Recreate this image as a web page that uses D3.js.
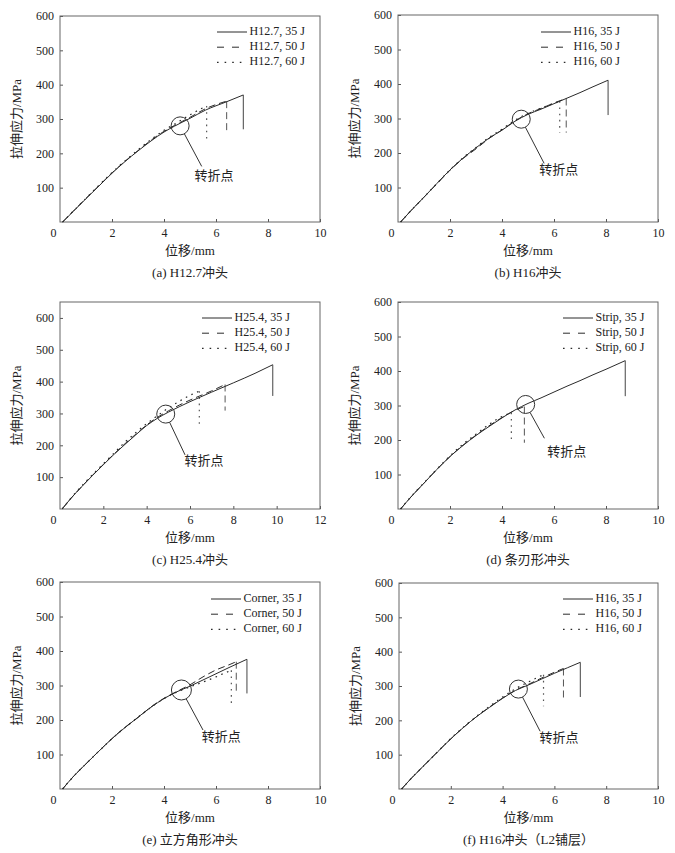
<!DOCTYPE html>
<html><head><meta charset="utf-8">
<script src="https://cdn.jsdelivr.net/npm/d3@7"></script>
<style>
body{margin:0;background:#fff;}
svg text{font-family:"Liberation Serif","Times New Roman","Noto Sans CJK SC",serif;fill:#222;}
</style></head><body>
<svg id="chart" width="675" height="853"></svg>
<script>
// ---------------- data ----------------
const captions = ["(a) H12.7冲头","(b) H16冲头","(c) H25.4冲头","(d) 条刃形冲头","(e) 立方角形冲头","(f) H16冲头（L2铺层）"];
const legendNames = ["H12.7","H16","H25.4","Strip","Corner","H16"];
const energyLabels = ["35 J","50 J","60 J"];
const xMaxes = [10,10,12,10,10,10];
const yMaxes = [600,600,650,600,600,600];
const xTicks10 = [0,2,4,6,8,10];
const xTicks12 = [0,2,4,6,8,10,12];
const yTicks = [100,200,300,400,500,600];
const xTitle = "位移/mm";
const yTitle = "拉伸应力/MPa";
const turnLabel = "转折点";

// (a) H12.7
const a35 = [[0.1,0],[0.5,30],[1,68],[1.5,105],[2,142],[2.5,176],[3,207],[3.5,236],[4,262],[4.4,279],[5,302],[5.6,326],[6.4,350],[7.05,370]];
const a50 = [[0.1,0],[0.5,31],[1,69],[1.5,106],[2,143],[2.5,177],[3,208],[3.5,238],[4,264],[4.4,281],[5,305],[5.6,330],[6.41,352]];
const a60 = [[0.1,0],[0.5,31],[1,69],[1.5,107],[2,144],[2.5,178],[3,210],[3.5,240],[4,267],[4.4,285],[5,312],[5.3,325],[5.64,338]];
const aDrop = [270,260,237];
// (b) H16
const b35 = [[0.1,0],[0.5,33],[1,72],[1.5,112],[2,151],[2.5,185],[3,215],[3.5,243],[4,266],[4.5,292],[5,312],[5.5,327],[6,343],[6.5,359],[7,375],[7.5,392],[8.08,411]];
const b50 = [[0.1,0],[0.5,33],[1,72],[1.5,111],[2,150],[2.5,184],[3,212],[3.5,242],[4,267],[4.5,293],[5,314],[5.5,329],[6,345],[6.47,358]];
const b60 = [[0.1,0],[0.5,33],[1,72],[1.5,112],[2,151],[2.5,186],[3,216],[3.5,245],[4,269],[4.5,295],[5,315],[5.5,330],[6.22,350]];
const bDrop = [310,259,259];
// (c) H25.4
const c35 = [[0.1,0],[0.5,33],[1,70],[1.5,105],[2,139],[2.5,172],[3,203],[3.5,233],[4,262],[4.5,285],[5,304],[5.5,321],[6,337],[7,367],[8,396],[9,426],[9.82,453]];
const c50 = [[0.1,0],[0.5,33],[1,70],[1.5,106],[2,140],[2.5,173],[3,205],[3.5,235],[4,264],[4.5,288],[5,308],[5.5,326],[6,342],[7,371],[7.62,391]];
const c60 = [[0.1,0],[0.5,34],[1,72],[1.5,108],[2,142],[2.5,176],[3,210],[3.5,240],[4,268],[4.5,293],[5,317],[5.5,338],[6,357],[6.43,370]];
const cDrop = [355,309,267];
// (d) Strip
const d35 = [[0.1,0],[0.5,35],[1,75],[1.5,115],[2,152],[2.5,184],[3,213],[3.5,239],[4,264],[4.5,287],[5,306],[5.5,322],[6,339],[6.5,356],[7,372],[7.5,389],[8,405],[8.74,430]];
const d50 = [[0.1,0],[0.5,35],[1,75],[1.5,115],[2,152],[2.5,185],[3,214],[3.5,241],[4,265],[4.5,286],[4.86,297]];
const d60 = [[0.1,0],[0.5,36],[1,76],[1.5,116],[2,154],[2.5,188],[3,217],[3.5,245],[4,268],[4.36,279]];
const dDrop = [327,192,203];
// (e) Corner
const e35 = [[0.1,0],[0.5,35],[1,73],[1.5,110],[2,146],[2.5,178],[3,208],[3.5,237],[4,262],[4.5,282],[5,298],[5.5,316],[6,334],[6.5,352],[7.19,376]];
const e50 = [[0.1,0],[0.5,35],[1,73],[1.5,110],[2,146],[2.5,179],[3,207],[3.5,238],[4,263],[4.5,283],[5,302],[5.5,325],[6,345],[6.5,360],[6.78,369]];
const e60 = [[0.1,0],[0.5,35],[1,73],[1.5,110],[2,146],[2.5,178],[3,208],[3.5,237],[4,262],[4.5,281],[5,296],[5.5,310],[6,325],[6.3,335],[6.59,344]];
const eDrop = [277,275,246];
// (f) H16 (L2)
const f35 = [[0.1,0],[0.5,33],[1,71],[1.5,109],[2,146],[2.5,180],[3,211],[3.5,238],[4,264],[4.5,287],[5,303],[5.5,320],[6,337],[6.5,353],[7,369]];
const f50 = [[0.1,0],[0.5,33],[1,71],[1.5,109],[2,146],[2.5,180],[3,211],[3.5,239],[4,265],[4.5,288],[5,305],[5.5,323],[6,340],[6.35,351]];
const f60 = [[0.1,0],[0.5,33],[1,71],[1.5,109],[2,147],[2.5,181],[3,212],[3.5,241],[4,268],[4.5,292],[5,312],[5.3,323],[5.58,333]];
const fDrop = [268,255,241];

const turnPoints = [[4.62,280],[4.74,298],[4.88,298],[4.91,303],[4.67,287],[4.61,291]];
const leaderEnds = [[5.45,162],[5.62,170],[5.77,170],[5.63,205],[5.5,171],[5.45,168]];
const labelPoints = [[5.92,134],[6.18,149],[6.65,149],[6.49,164],[6.2,149],[6.18,147]];

const seriesByPanel = [[a35,a50,a60],[b35,b50,b60],[c35,c50,c60],[d35,d50,d60],[e35,e50,e60],[f35,f50,f60]];
const dropsByPanel = [aDrop,bDrop,cDrop,dDrop,eDrop,fDrop];

// ---------------- layout ----------------
const boxes = [
  {l:60, r:320, t:16, b:222},
  {l:398,r:658, t:15, b:222},
  {l:60, r:320, t:302,b:509},
  {l:398,r:658, t:302,b:509},
  {l:60, r:320, t:582,b:789},
  {l:399,r:658, t:583,b:789}
];
const legendOffsets = [[157,16],[143,17],[142,16],[165,16],[151,17],[164,16]];
const dashStyles = [null,"7,4","1.6,4.6"];
const lineColor = "#2a2a2a";

const svg = d3.select("#chart");

boxes.forEach((bx,i)=>{
  const g = svg.append("g");
  const x = d3.scaleLinear().domain([0,xMaxes[i]]).range([bx.l,bx.r]);
  const y = d3.scaleLinear().domain([0,yMaxes[i]]).range([bx.b,bx.t]);
  const xt = xMaxes[i]===12 ? xTicks12 : xTicks10;

  // axes (inward ticks)
  const xAxis = d3.axisBottom(x).tickValues(xt).tickSizeInner(-3).tickSizeOuter(0).tickPadding(6).tickFormat(d3.format("d"));
  const gx = g.append("g").attr("transform",`translate(0,${bx.b})`).call(xAxis);
  gx.selectAll("text").attr("font-size",12).attr("dy","0.72em")
    .attr("x",(d)=> d===0 ? -7 : 0);
  const yAxis = d3.axisLeft(y).tickValues(yTicks).tickSizeInner(-3).tickSizeOuter(0).tickPadding(6);
  const gy = g.append("g").attr("transform",`translate(${bx.l},0)`).call(yAxis);
  gy.selectAll("text").attr("font-size",12);
  [gx,gy].forEach(a=>{
    a.select(".domain").remove();
    a.selectAll("line").attr("stroke","#555");
    a.selectAll("text").style("font-family",'"Liberation Serif",serif').attr("fill","#222");
    a.selectAll(".tick").filter(d=>d===0).select("line").remove();
  });
  // frame
  g.append("rect").attr("x",bx.l).attr("y",bx.t).attr("width",bx.r-bx.l).attr("height",bx.b-bx.t)
    .attr("fill","none").attr("stroke","#666").attr("stroke-width",1);

  // curves
  const line = d3.line().x(d=>x(d[0])).y(d=>y(d[1])).curve(d3.curveMonotoneX);
  const ser = seriesByPanel[i];
  const drops = dropsByPanel[i];
  [2,1,0].forEach(k=>{
    const s = ser[k];
    const last = s[s.length-1];
    const p = g.append("path").datum(s).attr("d",line).attr("fill","none")
      .attr("stroke",lineColor).attr("stroke-width",k===2?1.2:1);
    if(dashStyles[k]) p.attr("stroke-dasharray",dashStyles[k]);
    const dl = g.append("line").attr("x1",x(last[0])).attr("x2",x(last[0]))
      .attr("y1",y(last[1])).attr("y2",y(drops[k]))
      .attr("stroke",k===0?"#444":"#555").attr("stroke-width",k===2?1.2:1);
    if(dashStyles[k]) dl.attr("stroke-dasharray",dashStyles[k]);
  });

  // turning point annotation
  const cx = x(turnPoints[i][0]), cy = y(turnPoints[i][1]);
  const r = i===4 ? 10 : 9;
  g.append("circle").attr("cx",cx).attr("cy",cy).attr("r",r).attr("fill","none").attr("stroke","#333").attr("stroke-width",1);
  const ex = x(leaderEnds[i][0]), ey = y(leaderEnds[i][1]);
  const ang = Math.atan2(ey-cy, ex-cx);
  g.append("line").attr("x1",cx+r*Math.cos(ang)).attr("y1",cy+r*Math.sin(ang))
    .attr("x2",ex).attr("y2",ey).attr("stroke","#333").attr("stroke-width",1);
  g.append("text").attr("x",x(labelPoints[i][0])).attr("y",y(labelPoints[i][1]))
    .attr("text-anchor","middle").attr("dominant-baseline","middle")
    .attr("font-size",13).style("font-family",'"Noto Sans CJK SC",sans-serif')
    .text(turnLabel);

  // legend
  const lx = bx.l + legendOffsets[i][0], ly = bx.t + legendOffsets[i][1];
  energyLabels.forEach((e,k)=>{
    const yy = ly + k*15.2;
    const ll = g.append("line").attr("x1",lx).attr("x2",lx+30).attr("y1",yy).attr("y2",yy)
      .attr("stroke",lineColor).attr("stroke-width",k===2?1.2:1);
    if(k===1) ll.attr("stroke-dasharray","7,8");
    if(k===2) ll.attr("stroke-dasharray","1.6,6");
    g.append("text").attr("x",lx+32.5).attr("y",yy).attr("dominant-baseline","middle")
      .attr("font-size",12).text(`${legendNames[i]}, ${e}`);
  });

  // axis titles and caption
  g.append("text").attr("x",(bx.l+bx.r)/2).attr("y",bx.b+30).attr("text-anchor","middle")
    .attr("dominant-baseline","middle").attr("font-size",13).text(xTitle);
  g.append("text").attr("transform",`translate(${bx.l-42},${(bx.t+bx.b)/2}) rotate(-90)`)
    .attr("text-anchor","middle").attr("dominant-baseline","middle").attr("font-size",13).text(yTitle);
  g.append("text").attr("x",(bx.l+bx.r)/2).attr("y",bx.b+52).attr("text-anchor","middle")
    .attr("dominant-baseline","middle").attr("font-size",13).text(captions[i]);
});
</script>
</body></html>
